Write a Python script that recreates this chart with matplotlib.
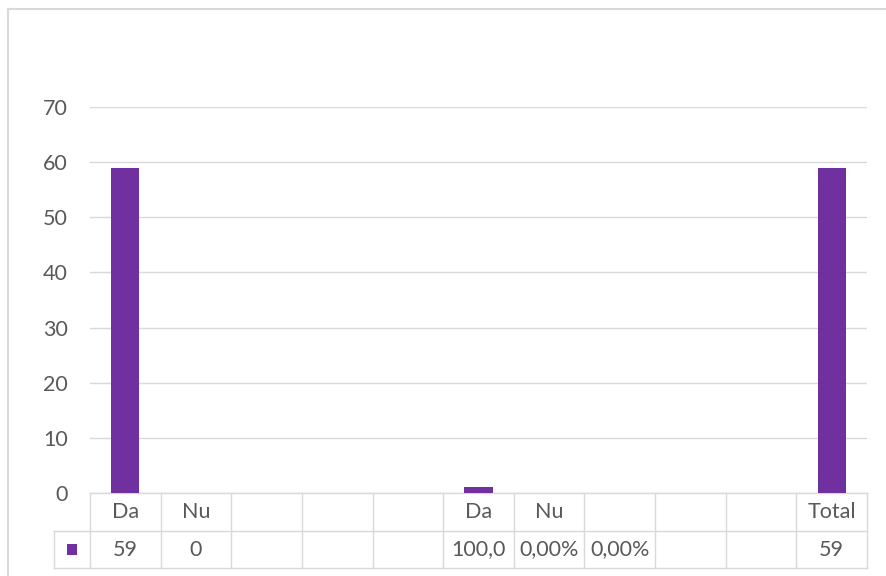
import matplotlib.pyplot as plt
import matplotlib.transforms as mtransforms
from matplotlib.patches import Rectangle
import numpy as np

plt.rcParams['font.family'] = ['Lato', 'DejaVu Sans']

# chart data
categories = ["Da", "Nu", "", "", "", "Da", "Nu", "", "", "", "Total"]
values = [59, 0, np.nan, np.nan, np.nan, 1, 0, 0, np.nan, np.nan, 59]
cell_text = ["59", "0", "", "", "", "100,0", "0,00%", "0,00%", "", "", "59"]
yticks = [0, 10, 20, 30, 40, 50, 60, 70]

purple = "#7030A0"
grid_c = "#D9D9D9"
text_c = "#595959"
fs = 15.5

fig = plt.figure(figsize=(8.87, 5.76), dpi=100)
W, H = 887, 576
ax = fig.add_axes([90 / W, (H - 493) / H, (867 - 90) / W, (493 - 107) / H])

x = np.arange(len(categories))
ax.bar(x, values, width=0.4, color=purple, zorder=3)

ax.set_xlim(-0.5, len(categories) - 0.5)
ax.set_ylim(0, 70)
ax.set_yticks(yticks)
ax.set_yticklabels([str(t) for t in yticks], fontsize=fs, color=text_c)
ax.tick_params(axis='y', length=0, pad=16)
ax.set_xticks([])
ax.grid(axis='y', color=grid_c, linewidth=1)
for s in ax.spines.values():
    s.set_visible(False)

# data table underneath: x in data units, y in axes fraction
tr = mtransforms.blended_transform_factory(ax.transData, ax.transAxes)
r1 = -38 / 386
r2 = -75 / 386
leg_left = -0.5 - 36 / 70.6
lk = dict(color=grid_c, linewidth=1, transform=tr, clip_on=False)

ax.plot([-0.5, len(categories) - 0.5], [0, 0], **lk)
ax.plot([leg_left, len(categories) - 0.5], [r1, r1], **lk)
ax.plot([leg_left, len(categories) - 0.5], [r2, r2], **lk)
for b in np.arange(len(categories) + 1) - 0.5:
    ax.plot([b, b], [0, r2], **lk)
ax.plot([leg_left, leg_left], [r1, r2], **lk)

for i, (c, t) in enumerate(zip(categories, cell_text)):
    ax.text(i, r1 / 2, c, transform=tr, ha='center', va='center',
            fontsize=fs, color=text_c, clip_on=False)
    ax.text(i, (r1 + r2) / 2, t, transform=tr, ha='center', va='center',
            fontsize=fs, color=text_c, clip_on=False)

# legend key in the table
lx = (-0.5 + leg_left) / 2
ax.add_patch(Rectangle((lx - 0.07, (r1 + r2) / 2 - 0.013), 0.14, 0.026,
                       facecolor=purple, transform=tr, clip_on=False))

# chart area border (cropped at right and bottom)
fig.add_artist(plt.Line2D([8 / W, 8 / W], [0, (H - 9) / H], color=grid_c, linewidth=1.5))
fig.add_artist(plt.Line2D([8 / W, 1], [(H - 9) / H, (H - 9) / H], color=grid_c, linewidth=1.5))

fig.savefig("out.png", dpi=100)
